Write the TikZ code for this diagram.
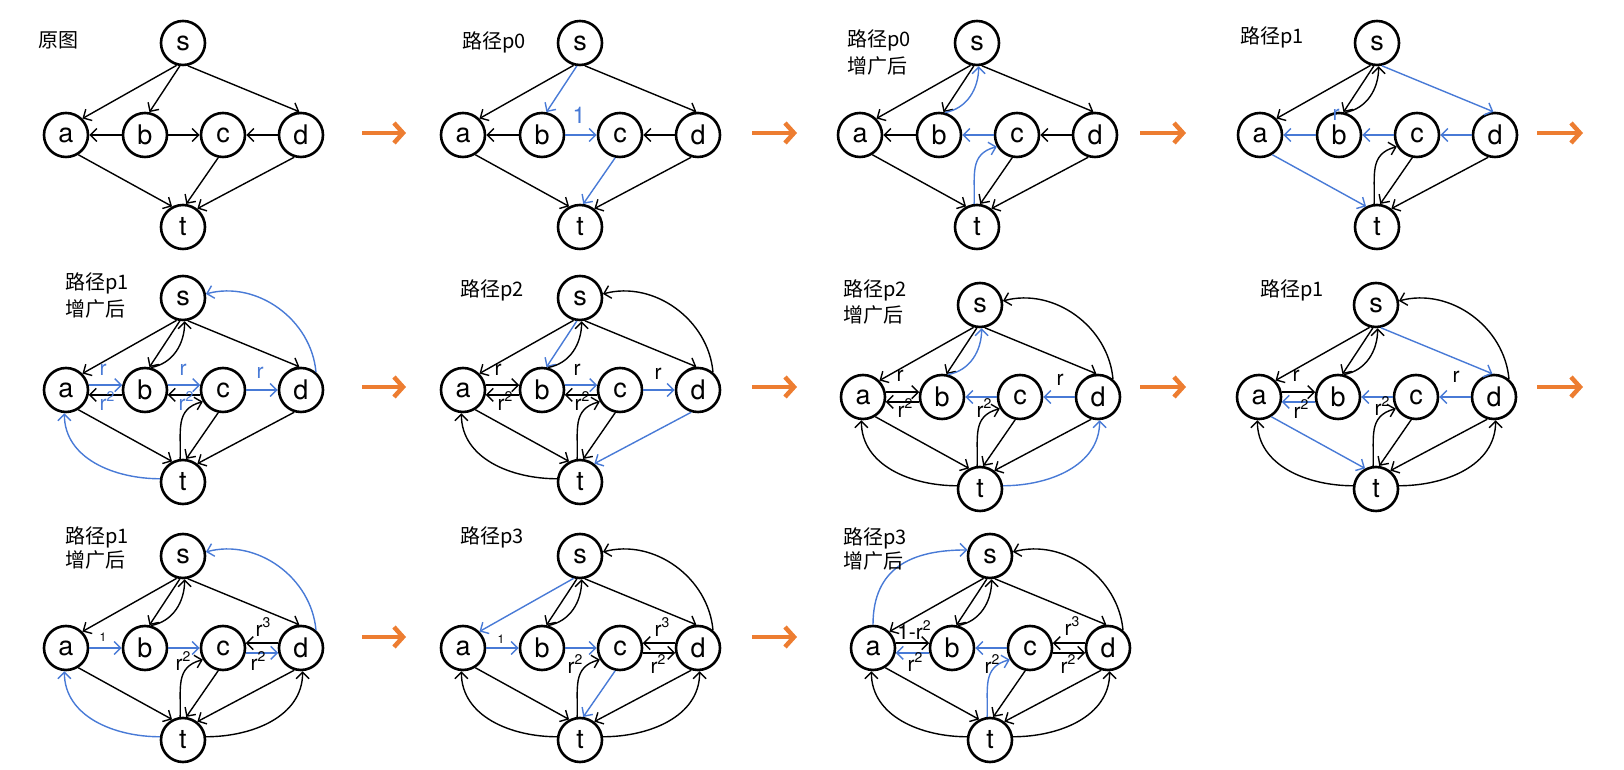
\documentclass[tikz,border=0pt]{standalone}
\usepackage{fontspec}
\setmainfont{TeX Gyre Heros}
\newfontfamily\cjk{Noto Sans CJK SC}
\usetikzlibrary{arrows.meta}
\definecolor{myblue}{RGB}{72,122,214}
\definecolor{myorange}{RGB}{237,125,49}
\newcommand\rp[1]{r\raisebox{0.45em}{\fontsize{14}{14}\selectfont #1}}
\tikzset{
  nd/.style={circle, draw, line width=2.6pt, minimum size=44pt, inner sep=0pt, font=\fontsize{27}{27}\selectfont},
  ed/.style={line width=1.4pt, -{Straight Barb[length=6.5pt,width=13pt]}},
  lb/.style={font=\fontsize{21}{21}\selectfont, inner sep=0pt},
  sm/.style={font=\fontsize{12}{12}\selectfont, inner sep=0pt},
  hd/.style={font=\cjk\fontsize{20}{24}\selectfont, anchor=west, inner sep=0pt},
  big/.style={line width=4.5pt, draw=myorange, -{Straight Barb[length=9pt,width=20pt]}}
}
\newcommand\mknodes{%
  \node[nd] (s) at (0,92) {s};
  \node[nd] (a) at (-117,0) {a};
  \node[nd] (b) at (-38,0) {b};
  \node[nd] (c) at (40,0) {c};
  \node[nd] (d) at (118,0) {d};
  \node[nd] (t) at (0,-92) {t};}
\newcommand\eSA[1][black]{\draw[ed,#1] (s.-106) -- (a.45);}
\newcommand\eSB[1][black]{\draw[ed,#1] (s.-98) -- (b.79);}
\newcommand\eSD[1][black]{\draw[ed,#1] (s.-78) -- (d.94);}
\newcommand\eBA[1][black]{\draw[ed,#1] (b.180) -- (a.0);}
\newcommand\eAB[1][black]{\draw[ed,#1] (a.0) -- (b.180);}
\newcommand\eBC[1][black]{\draw[ed,#1] (b.0) -- (c.180);}
\newcommand\eCB[1][black]{\draw[ed,#1] (c.180) -- (b.0);}
\newcommand\eDC[1][black]{\draw[ed,#1] (d.180) -- (c.0);}
\newcommand\eCD[1][black]{\draw[ed,#1] (c.0) -- (d.180);}
\newcommand\eAT[1][black]{\draw[ed,#1] (a.-58) -- (t.118);}
\newcommand\eCT[1][black]{\draw[ed,#1] (c.-102) -- (t.82);}
\newcommand\eDT[1][black]{\draw[ed,#1] (d.-107) -- (t.52);}
\newcommand\cBS[1][black]{\draw[ed,#1] (b.75) to[out=10,in=-90] (s.-86);}
\newcommand\cTC[1][black]{\draw[ed,#1] (t.97) to[out=88,in=195,looseness=1.2] (c.-150);}
\newcommand\cDS[1][black]{\draw[ed,#1] (d.50) to[out=95,in=15] (s.10);}
\newcommand\cTA[1][black]{\draw[ed,#1] (t.172) to[out=180,in=-90] (a.-94);}
\newcommand\cTD[1][black]{\draw[ed,#1] (t.8) to[out=0,in=-90] (d.-86);}
\newcommand\cAS[1][black]{\draw[ed,#1] (a.90) to[out=90,in=180,looseness=1.2] (s.165);}
\newcommand\dABt[1][black]{\draw[ed,#1] (a.12) -- (b.168);}
\newcommand\dBAb[1][black]{\draw[ed,#1] (b.-168) -- (a.-12);}
\newcommand\dBCt[1][black]{\draw[ed,#1] (b.12) -- (c.168);}
\newcommand\dCBb[1][black]{\draw[ed,#1] (c.-168) -- (b.-12);}
\newcommand\dDCt[1][black]{\draw[ed,#1] (d.168) -- (c.12);}
\newcommand\dCDb[1][black]{\draw[ed,#1] (c.-12) -- (d.-168);}
\begin{document}
\begin{tikzpicture}[x=1pt,y=1pt]
\useasboundingbox (0,0) rectangle (1624,770);
% ---------- Panel 1
\begin{scope}[shift={(183,635)}, name prefix=p1-]
\mknodes
\eSA \eSB \eSD \eBA \eBC \eDC \eAT \eCT \eDT
\end{scope}
\node[hd] (h1) at (38,730) {原图};
% ---------- Panel 2
\begin{scope}[shift={(580,635)}, name prefix=p2-]
\mknodes
\eSA \eSB[myblue] \eSD \eBA \eBC[myblue] \eDC \eAT \eCT[myblue] \eDT
\node[lb, myblue, font=\fontsize{23}{23}\selectfont] (l1) at (-1,20) {1};
\end{scope}
\node[hd] (h2) at (462,728) {路径p0};
% ---------- Panel 3
\begin{scope}[shift={(977,635)}, name prefix=p3-]
\mknodes
\eSA \eSB \cBS[myblue] \eSD \eBA \eCB[myblue] \eDC \eAT \eCT \cTC[myblue] \eDT
\end{scope}
\node[hd] (h3a) at (847,730) {路径p0};
\node[hd] (h3b) at (847,704) {增广后};
% ---------- Panel 4
\begin{scope}[shift={(1377,635)}, name prefix=p4-]
\mknodes
\eSA \eSB \cBS \eSD[myblue] \eBA[myblue] \eCB[myblue] \eDC[myblue] \eAT[myblue] \eCT \cTC \eDT
\node[lb, myblue] (l1) at (-41,20) {r};
\end{scope}
\node[hd] (h4) at (1240,733) {路径p1};
% ---------- Panel 5
\begin{scope}[shift={(183,380)}, name prefix=p5-]
\mknodes
\eSA \eSB \cBS \eSD \cDS[myblue] \dABt[myblue] \dBAb \dBCt[myblue] \dCBb \eCD[myblue]
\eAT \cTA[myblue] \eCT \cTC \eDT
\node[lb, myblue] (l1) at (-80,20) {r};
\node[lb, myblue] (l2) at (-76,-11) {\rp{2}};
\node[lb, myblue] (l3) at (0,20) {r};
\node[lb, myblue] (l4) at (3,-11) {\rp{2}};
\node[lb, myblue] (l5) at (77,17) {r};
\end{scope}
\node[hd] (h5a) at (65,487) {路径p1};
\node[hd] (h5b) at (65,461) {增广后};
% ---------- Panel 6
\begin{scope}[shift={(580,380)}, name prefix=p6-]
\mknodes
\eSA \eSB[myblue] \cBS \eSD \cDS \dABt \dBAb \dBCt[myblue] \dCBb \eCD[myblue]
\eAT \cTA \eCT \cTC \eDT[myblue]
\node[lb] (l1) at (-82,20) {r};
\node[lb] (l2) at (-75,-11) {\rp{2}};
\node[lb] (l3) at (-3,20) {r};
\node[lb] (l4) at (2,-11) {\rp{2}};
\node[lb] (l5) at (78,16) {r};
\end{scope}
\node[hd] (h6) at (460,480) {路径p2};
% ---------- Panel 7
\begin{scope}[shift={(980,373)}, name prefix=p7-]
\mknodes
\eSA \eSB \cBS[myblue] \eSD \cDS \dABt \dBAb \eCB[myblue] \eDC[myblue]
\eAT \cTA \eCT \cTC \eDT \cTD[myblue]
\node[lb] (l1) at (-80,21) {r};
\node[lb] (l2) at (-75,-11) {\rp{2}};
\node[lb] (l3) at (4,-11) {\rp{2}};
\node[lb] (l4) at (80,17) {r};
\end{scope}
\node[hd] (h7a) at (843,480) {路径p2};
\node[hd] (h7b) at (843,455) {增广后};
% ---------- Panel 8
\begin{scope}[shift={(1376,373)}, name prefix=p8-]
\mknodes
\eSA \eSB \cBS \eSD[myblue] \cDS \dABt \dBAb[myblue] \eCB[myblue] \eDC[myblue]
\eAT[myblue] \cTA \eCT \cTC \eDT \cTD
\node[lb] (l1) at (-80,21) {r};
\node[lb] (l2) at (-75,-12) {\rp{2}};
\node[lb] (l3) at (6,-9) {\rp{2}};
\node[lb] (l4) at (80,20) {r};
\end{scope}
\node[hd] (h8) at (1260,480) {路径p1};
% ---------- Panel 9
\begin{scope}[shift={(183,122)}, name prefix=p9-]
\mknodes
\eSA \eSB \cBS \eSD \cDS[myblue] \eAB[myblue] \eBC[myblue] \dDCt \dCDb[myblue]
\eAT \cTA[myblue] \eCT \cTC \eDT \cTD
\node[sm] (l1) at (-80,11) {1};
\node[lb] (l2) at (0,-13) {\rp{2}};
\node[lb] (l3) at (80,21) {\rp{3}};
\node[lb] (l4) at (75,-13) {\rp{2}};
\end{scope}
\node[hd] (h9a) at (65,233) {路径p1};
\node[hd] (h9b) at (65,210) {增广后};
% ---------- Panel 10
\begin{scope}[shift={(580,122)}, name prefix=p10-]
\mknodes
\eSA[myblue] \eSB \cBS \eSD \cDS \eAB[myblue] \eBC[myblue] \dDCt \dCDb
\eAT \cTA \eCT[myblue] \cTC \eDT \cTD
\node[sm] (l1) at (-79,9) {1};
\node[lb] (l2) at (-5,-16) {\rp{2}};
\node[lb] (l3) at (82,21) {\rp{3}};
\node[lb] (l4) at (78,-16) {\rp{2}};
\end{scope}
\node[hd] (h10) at (460,233) {路径p3};
% ---------- Panel 11
\begin{scope}[shift={(990,122)}, name prefix=p11-]
\mknodes
\cAS[myblue] \eSA \eSB \cBS \eSD \cDS \dABt \dBAb[myblue] \eCB[myblue] \dDCt \dCDb
\eAT \cTA \eCT \cTC[myblue] \eDT \cTD
\node[lb] (l1) at (-76,18) {1-\rp{2}};
\node[lb] (l2) at (-75,-14) {\rp{2}};
\node[lb] (l3) at (2,-16) {\rp{2}};
\node[lb] (l4) at (82,22) {\rp{3}};
\node[lb] (l5) at (78,-16) {\rp{2}};
\end{scope}
\node[hd] (h11a) at (843,232) {路径p3};
\node[hd] (h11b) at (843,209) {增广后};
% ---------- Orange arrows
\foreach \i/\xa/\xb/\yy in {1/362/406/637, 2/752/797/637, 3/1140/1186/637, 4/1537/1583/637,
  5/362/406/383, 6/752/797/383, 7/1140/1186/383, 8/1537/1583/383,
  9/362/406/133, 10/752/797/133}{
  \coordinate (oa\i) at (\xa,\yy);
  \coordinate (ob\i) at (\xb,\yy);
  \draw[big] (oa\i) -- (ob\i);
}
\end{tikzpicture}
\end{document}
